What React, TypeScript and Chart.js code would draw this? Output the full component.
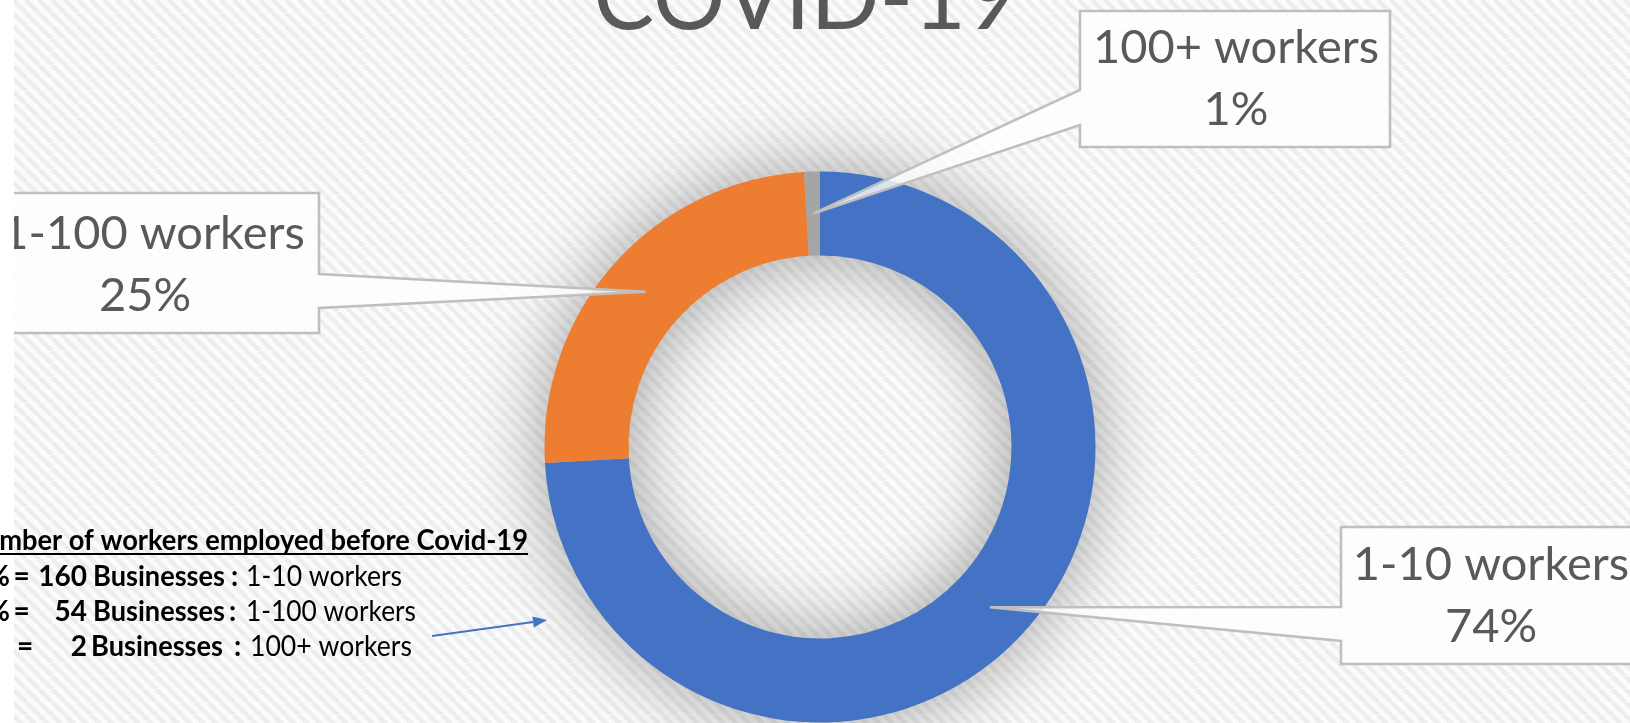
import React, { useEffect, useRef } from "react";
import { Chart, registerables } from "chart.js";

Chart.register(...registerables);

// ---------------- data ----------------
const categories = ["1-10 workers", "1-100 workers", "100+ workers"];
const businessCounts = [160, 54, 2];
const sliceColors = ["#4472C4", "#ED7D31", "#A5A5A5"];
const chartTitle = "COVID-19";
const noteHeading = "Number of workers employed before Covid-19";
const noteUnit = "Businesses";

// ---------------- layout / style ----------------
const W = 1630;
const H = 723;
const PLOT_LEFT = 14;
const RING = { cx: 820, cy: 447, r: 275.5, cutout: "69.5%" };

const calloutBoxes = [
  { l: 1341, t: 527, r: 1645, b: 664, side: "left", o1: 607, o2: 641, tx1: 1491, tx2: 1491, y1: 580, y2: 642 },
  { l: -33, t: 193, r: 319, b: 333, side: "right", o1: 274, o2: 308, tx1: 153, tx2: 145, y1: 249, y2: 311 },
  { l: 1080, t: 11, r: 1390, b: 147, side: "left", o1: 90, o2: 125, tx1: 1236, tx2: 1236, y1: 63, y2: 125 },
];

const noteLayout = {
  headingRight: 528,
  headingWidth: 565,
  headingBase: 550,
  lineBases: [586, 621, 656],
  pctRight: [10, 10, -3],
  eqCenter: [21.5, 21.5, 25],
  countRight: 87,
  unitLeft: [93, 93, 91],
  unitWidth: 132,
  colonLeft: [231, 229, 234],
  labelLeft: [246, 246, 250],
  labelWidth: [156, 170, 162],
};
const arrowPts = { x1: 432, y1: 636, x2: 547, y2: 620 };
const titlePos = { x: 806, y: 29, width: 425 };

const LABEL_FONT = "47px Lato";
const TITLE_FONT = "94px Lato";
const NOTE_BOLD = "bold 28px Lato";
const NOTE_REG = "28px Lato";
const GREY_TEXT = "#595959";

function makePattern(): HTMLCanvasElement {
  const pc = document.createElement("canvas");
  pc.width = 13;
  pc.height = 13;
  const p = pc.getContext("2d")!;
  p.fillStyle = "#fbfbfb";
  p.fillRect(0, 0, 13, 13);
  p.strokeStyle = "#ededed";
  p.lineWidth = 4.5;
  for (const o of [-13, 0, 13]) {
    p.beginPath();
    p.moveTo(o, 0);
    p.lineTo(o + 13, 13);
    p.stroke();
  }
  return pc;
}

function txt(
  ctx: CanvasRenderingContext2D,
  s: string,
  x: number,
  y: number,
  font: string,
  color: string,
  align: CanvasTextAlign,
  maxW?: number
) {
  ctx.font = font;
  ctx.fillStyle = color;
  ctx.textAlign = align;
  ctx.textBaseline = "alphabetic";
  if (maxW) ctx.fillText(s, x, y, maxW);
  else ctx.fillText(s, x, y);
}

// draws text stretched/squeezed horizontally to an exact width, right-aligned at x
function fitRight(
  ctx: CanvasRenderingContext2D,
  s: string,
  x: number,
  y: number,
  font: string,
  color: string,
  width: number
) {
  ctx.save();
  ctx.font = font;
  ctx.fillStyle = color;
  ctx.textAlign = "left";
  ctx.textBaseline = "alphabetic";
  const w = ctx.measureText(s).width;
  const k = width / w;
  ctx.translate(x - width, y);
  ctx.scale(k, 1);
  ctx.fillText(s, 0, 0);
  ctx.restore();
}

export default function App() {
  const ref = useRef<HTMLCanvasElement | null>(null);

  useEffect(() => {
    const canvas = ref.current;
    if (!canvas) return;
    const pattern = makePattern();
    const total = businessCounts.reduce((a, b) => a + b, 0);
    const pctText = (v: number) => Math.round((v / total) * 100) + "%";

    const bgPlugin = {
      id: "bgPlugin",
      beforeDraw(chart: any) {
        const ctx: CanvasRenderingContext2D = chart.ctx;
        ctx.save();
        ctx.fillStyle = "#ffffff";
        ctx.fillRect(0, 0, W, H);
        const pat = ctx.createPattern(pattern, "repeat");
        if (pat) ctx.fillStyle = pat;
        ctx.fillRect(PLOT_LEFT, 0, W - PLOT_LEFT, H);
        ctx.restore();
      },
    };

    const shadowPlugin = {
      id: "shadowPlugin",
      beforeDatasetsDraw(chart: any) {
        const ctx: CanvasRenderingContext2D = chart.ctx;
        const a: any = chart.getDatasetMeta(0).data[0];
        if (!a) return;
        const off = 6000;
        ctx.save();
        ctx.beginPath();
        ctx.arc(a.x - off, a.y, a.outerRadius, 0, Math.PI * 2);
        ctx.moveTo(a.x - off + a.innerRadius, a.y);
        ctx.arc(a.x - off, a.y, a.innerRadius, 0, Math.PI * 2, true);
        ctx.shadowColor = "rgba(0,0,0,0.36)";
        ctx.shadowBlur = 75;
        ctx.shadowOffsetX = off;
        ctx.fillStyle = "#000";
        ctx.fill();
        ctx.restore();
      },
    };

    const calloutPlugin = {
      id: "calloutPlugin",
      afterDatasetsDraw(chart: any) {
        const ctx: CanvasRenderingContext2D = chart.ctx;
        const meta = chart.getDatasetMeta(0);
        ctx.save();
        ctx.beginPath();
        ctx.rect(PLOT_LEFT, 0, W - PLOT_LEFT, H);
        ctx.clip();

        txt(ctx, chartTitle, titlePos.x, titlePos.y, TITLE_FONT, GREY_TEXT, "center", titlePos.width);

        meta.data.forEach((arc: any, i: number) => {
          const c = calloutBoxes[i];
          const tip = arc.tooltipPosition(false);
          ctx.beginPath();
          if (c.side === "left") {
            ctx.moveTo(c.l, c.t);
            ctx.lineTo(c.r, c.t);
            ctx.lineTo(c.r, c.b);
            ctx.lineTo(c.l, c.b);
            ctx.lineTo(c.l, c.o2);
            ctx.lineTo(tip.x, tip.y);
            ctx.lineTo(c.l, c.o1);
            ctx.closePath();
          } else {
            ctx.moveTo(c.l, c.t);
            ctx.lineTo(c.r, c.t);
            ctx.lineTo(c.r, c.o1);
            ctx.lineTo(tip.x, tip.y);
            ctx.lineTo(c.r, c.o2);
            ctx.lineTo(c.r, c.b);
            ctx.lineTo(c.l, c.b);
            ctx.closePath();
          }
          ctx.fillStyle = "rgba(255,255,255,0.8)";
          ctx.fill();
          ctx.strokeStyle = "#bfbfbf";
          ctx.lineWidth = 2.6;
          ctx.stroke();
          txt(ctx, categories[i], c.tx1, c.y1, LABEL_FONT, GREY_TEXT, "center");
          txt(ctx, pctText(businessCounts[i]), c.tx2, c.y2, LABEL_FONT, GREY_TEXT, "center");
        });
        ctx.restore();

        // annotation text block (outside plot clip)
        ctx.save();
        const n = noteLayout;
        fitRight(ctx, noteHeading, n.headingRight, n.headingBase, NOTE_BOLD, "#000", n.headingWidth);
        ctx.fillStyle = "#000";
        ctx.fillRect(n.headingRight - n.headingWidth, n.headingBase + 3, n.headingWidth, 2);
        businessCounts.forEach((v, i) => {
          const y = n.lineBases[i];
          txt(ctx, pctText(v), n.pctRight[i], y, NOTE_BOLD, "#000", "right");
          txt(ctx, "=", n.eqCenter[i], y, NOTE_BOLD, "#000", "center");
          txt(ctx, String(v), n.countRight, y, NOTE_BOLD, "#000", "right");
          txt(ctx, noteUnit, n.unitLeft[i], y, NOTE_BOLD, "#000", "left", n.unitWidth);
          txt(ctx, ":", n.colonLeft[i], y, NOTE_BOLD, "#000", "left");
          txt(ctx, categories[i], n.labelLeft[i], y, NOTE_REG, "#000", "left", n.labelWidth[i]);
        });

        // arrow
        const { x1, y1, x2, y2 } = arrowPts;
        const ang = Math.atan2(y2 - y1, x2 - x1);
        const hl = 14;
        const hwid = 5.5;
        ctx.strokeStyle = "#4472C4";
        ctx.fillStyle = "#4472C4";
        ctx.lineWidth = 2;
        ctx.beginPath();
        ctx.moveTo(x1, y1);
        ctx.lineTo(x2 - hl * Math.cos(ang), y2 - hl * Math.sin(ang));
        ctx.stroke();
        ctx.beginPath();
        ctx.moveTo(x2, y2);
        ctx.lineTo(
          x2 - hl * Math.cos(ang) + hwid * Math.sin(ang),
          y2 - hl * Math.sin(ang) - hwid * Math.cos(ang)
        );
        ctx.lineTo(
          x2 - hl * Math.cos(ang) - hwid * Math.sin(ang),
          y2 - hl * Math.sin(ang) + hwid * Math.cos(ang)
        );
        ctx.closePath();
        ctx.fill();
        ctx.restore();
      },
    };

    const chart = new Chart(canvas, {
      type: "doughnut",
      data: {
        labels: categories,
        datasets: [
          {
            data: businessCounts,
            backgroundColor: sliceColors,
            borderWidth: 0,
            hoverOffset: 0,
          },
        ],
      },
      options: {
        responsive: false,
        animation: false,
        cutout: RING.cutout,
        events: [],
        layout: {
          padding: {
            left: RING.cx - RING.r,
            right: W - RING.cx - RING.r,
            top: RING.cy - RING.r,
            bottom: H - RING.cy - RING.r,
          },
        },
        plugins: {
          legend: { display: false },
          tooltip: { enabled: false },
          title: { display: false },
        },
      },
      plugins: [bgPlugin, shadowPlugin, calloutPlugin],
    } as any);

    return () => {
      chart.destroy();
    };
  }, []);

  return (
    <div style={{ position: "fixed", left: 0, top: 0, width: W, height: H, background: "#fff", overflow: "hidden" }}>
      <canvas ref={ref} width={W} height={H} style={{ display: "block", width: W, height: H }} />
    </div>
  );
}
